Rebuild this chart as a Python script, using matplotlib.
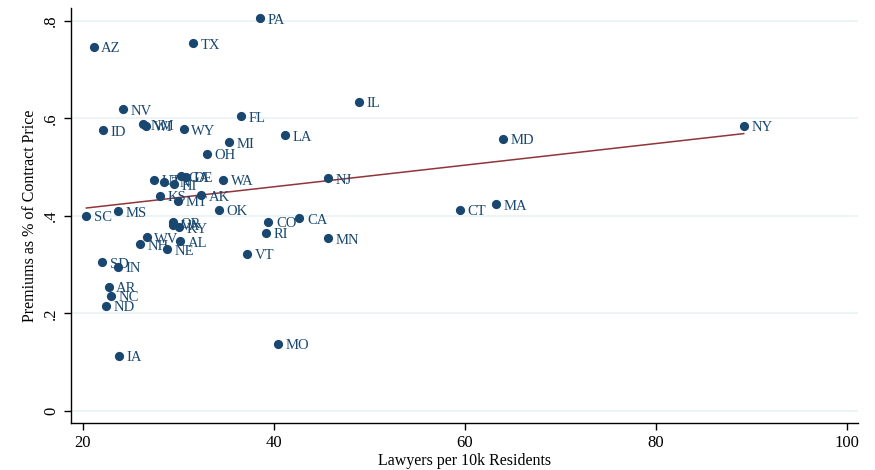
import numpy as np
import matplotlib
matplotlib.use("Agg")
import matplotlib.pyplot as plt

states = [
    "PA", "AZ", "TX", "NV", "IL", "ID", "NM", "WI", "WY", "FL", "MI", "LA",
    "NY", "MD", "OH", "UT", "TN", "HI", "GA", "DE", "WA", "NJ", "KS", "AK",
    "MT", "OK", "SC", "MS", "OR", "VA", "KY", "CO", "CA", "CT", "MA", "RI",
    "WV", "NH", "AL", "NE", "MN", "VT", "SD", "IN", "AR", "NC", "ND", "MO", "IA",
]
lawyers = [
    38.50, 21.12, 31.49, 24.16, 48.90, 22.09, 26.28, 26.60, 30.54, 36.58, 35.32, 41.18,
    89.18, 63.98, 32.95, 27.47, 28.51, 29.56, 30.23, 30.79, 34.69, 45.69, 28.09, 32.39,
    29.98, 34.21, 20.35, 23.63, 29.39, 29.46, 30.08, 39.40, 42.65, 59.48, 63.28, 39.19,
    26.67, 25.97, 30.16, 28.76, 45.69, 37.20, 22.02, 23.63, 22.69, 22.93, 22.41, 40.39, 23.74,
]
premiums = [
    0.806, 0.747, 0.755, 0.619, 0.634, 0.576, 0.588, 0.585, 0.578, 0.605, 0.551, 0.565,
    0.585, 0.558, 0.528, 0.474, 0.470, 0.465, 0.482, 0.480, 0.474, 0.477, 0.441, 0.443,
    0.431, 0.413, 0.400, 0.410, 0.387, 0.382, 0.377, 0.388, 0.395, 0.413, 0.424, 0.365,
    0.356, 0.342, 0.348, 0.331, 0.354, 0.322, 0.305, 0.296, 0.255, 0.236, 0.216, 0.138, 0.113,
]
x_ticks = [20, 40, 60, 80, 100]
y_ticks = [0, 0.2, 0.4, 0.6, 0.8]
y_tick_labels = ["0", ".2", ".4", ".6", ".8"]

navy = "#1a476f"
maroon = "#90353b"

plt.rcParams["font.family"] = ["Liberation Serif", "DejaVu Serif"]

fig = plt.figure(figsize=(8.75, 4.7), dpi=100)
ax = fig.add_axes([0.0811, 0.1006, 0.8995, 0.8824])

x = np.array(lawyers)
y = np.array(premiums)

ax.scatter(x, y, s=44, color=navy, zorder=3, linewidths=0)
for name, xi, yi in zip(states, x, y):
    ax.annotate(name, (xi, yi), xytext=(5.5, -1.5), textcoords="offset points",
                ha="left", va="center", fontsize=10.5, color=navy, zorder=4)

# linear fit over the observed x range
b, a = np.polyfit(x, y, 1)
xs = np.array([x.min(), x.max()])
ax.plot(xs, a + b * xs, color=maroon, lw=1.1, zorder=2)

ax.set_xlim(18.74, 101.15)
ax.set_ylim(-0.0246, 0.8267)
ax.set_xticks(x_ticks)
ax.set_yticks(y_ticks)
ax.set_yticklabels(y_tick_labels, rotation=90, va="center")
ax.yaxis.grid(True, color="#eaf2f3", lw=1.2)
ax.set_axisbelow(True)
for side in ["top", "right"]:
    ax.spines[side].set_visible(False)
for side in ["left", "bottom"]:
    ax.spines[side].set_linewidth(1.0)
ax.tick_params(direction="out", length=5, width=1, labelsize=12, colors="black")
ax.set_xlabel("Lawyers per 10k Residents", fontsize=11.5, labelpad=2)
ax.set_ylabel("Premiums as % of Contract Price", fontsize=11.5, labelpad=4)

fig.savefig("out.png", dpi=100)
